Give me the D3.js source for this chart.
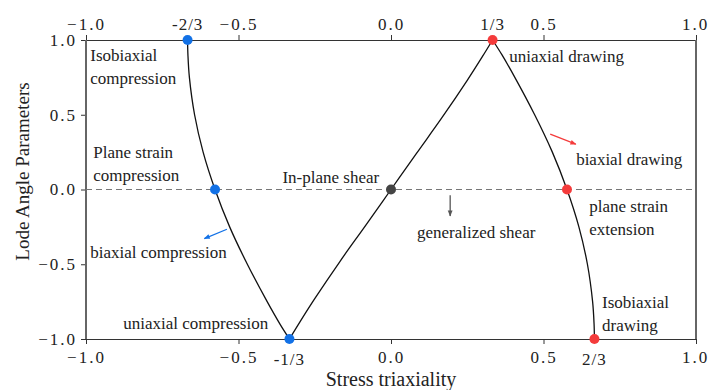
<!DOCTYPE html>
<html>
<head>
<meta charset="utf-8">
<script src="https://cdn.jsdelivr.net/npm/d3@7"></script>
<style>
  body { margin: 0; background: #fff; }
  svg text { font-family: "Liberation Serif", "DejaVu Serif", serif; fill: #222; }
  .tick text { letter-spacing: 2px; }
</style>
</head>
<body>
<div id="chart"></div>
<script>
// stress triaxiality (eta) vs Lode angle parameter
const compEta  = [-0.667, -0.6658, -0.661, -0.644, -0.616, -0.577, -0.529, -0.471, -0.406, -0.364, -0.333];
const compLode = [1, 0.9, 0.75, 0.5, 0.25, 0, -0.25, -0.5, -0.75, -0.9, -1];
const shearEta  = [-0.333, -0.3, -0.25, -0.167, -0.083, 0, 0.083, 0.167, 0.25, 0.3, 0.333];
const shearLode = [-1, -0.89, -0.73, -0.48, -0.24, 0, 0.24, 0.48, 0.73, 0.89, 1];
const tensEta  = [0.333, 0.364, 0.406, 0.471, 0.529, 0.577, 0.616, 0.644, 0.661, 0.6658, 0.667];
const tensLode = [1, 0.9, 0.75, 0.5, 0.25, 0, -0.25, -0.5, -0.75, -0.9, -1];

// special states
const pointEta   = [-0.667, -0.577, -0.333, 0.333, 0.577, 0.667, 0];
const pointLode  = [1, 0, -1, 1, 0, -1, 0];
const pointGroup = ['comp', 'comp', 'comp', 'tens', 'tens', 'tens', 'shear'];

// tick labels
const tickVals = [-1, -0.5, 0, 0.5, 1];
const topFracVals = [-2 / 3, 1 / 3];
const topFracLabels = ['-2/3', '1/3'];
const bottomFracVals = [-1 / 3, 2 / 3];
const bottomFracLabels = ['-1/3', '2/3'];

const colors = { comp: '#1271e6', tens: '#f43b3b', shear: '#444' };

const width = 709, height = 390;
const margin = { top: 40, right: 13, bottom: 51, left: 86 };

const svg = d3.select('#chart').append('svg')
  .attr('width', width)
  .attr('height', height);

const x = d3.scaleLinear().domain([-1, 1]).range([margin.left, width - margin.right]);
const y = d3.scaleLinear().domain([-1, 1]).range([height - margin.bottom, margin.top]);

const defs = svg.append('defs');
Object.entries({ red: colors.tens, blue: colors.comp, grey: '#555' }).forEach(([k, c]) => {
  defs.append('marker')
    .attr('id', 'arrow-' + k)
    .attr('viewBox', '0 0 10 10')
    .attr('refX', 9).attr('refY', 5)
    .attr('markerWidth', 7).attr('markerHeight', 6)
    .attr('markerUnits', 'userSpaceOnUse')
    .attr('orient', 'auto')
    .append('path')
    .attr('d', 'M0,1 L10,5 L0,9 Z')
    .attr('fill', c);
});

const fmt = d => d3.format('.1f')(d).replace('-', '\u2212');

// axes
const gx = svg.append('g')
  .attr('transform', `translate(0, ${y(-1)})`)
  .call(d3.axisBottom(x).tickValues(tickVals).tickFormat(fmt).tickSize(5).tickPadding(7));
const gt = svg.append('g')
  .attr('transform', `translate(0, ${y(1)})`)
  .call(d3.axisTop(x).tickValues(tickVals).tickFormat(fmt).tickSize(5).tickPadding(5));
const gy = svg.append('g')
  .attr('transform', `translate(${x(-1)}, 0)`)
  .call(d3.axisLeft(y).tickValues(tickVals).tickFormat(fmt).tickSize(5).tickPadding(4));

[gx, gt, gy].forEach(g => {
  g.selectAll('.tick text').attr('font-size', 17).attr('fill', '#222')
    .attr('font-family', '"Liberation Serif", serif');
  g.selectAll('.tick line').attr('stroke', '#333');
  g.select('.domain').attr('stroke', '#333');
});
gy.select('.domain').remove();
// keep the right-most labels inside the picture
[gx, gt].forEach(g => {
  g.selectAll('.tick text').filter(d => d === 1).attr('dx', -1);
});

// side spines (thicker grey)
svg.append('line')
  .attr('x1', x(-1)).attr('x2', x(-1)).attr('y1', y(1)).attr('y2', y(-1))
  .attr('stroke', '#666').attr('stroke-width', 2);
svg.append('line')
  .attr('x1', x(1)).attr('x2', x(1)).attr('y1', y(1)).attr('y2', y(-1))
  .attr('stroke', '#666').attr('stroke-width', 2);

// fraction labels
svg.selectAll('.topfrac')
  .data(topFracVals)
  .enter().append('text')
  .attr('x', d => x(d)).attr('y', y(1) - 10)
  .attr('text-anchor', 'middle').attr('font-size', 17).attr('letter-spacing', 1)
  .text((d, i) => topFracLabels[i]);
svg.selectAll('.botfrac')
  .data(bottomFracVals)
  .enter().append('text')
  .attr('x', d => x(d)).attr('y', y(-1) + 26)
  .attr('text-anchor', 'middle').attr('font-size', 17).attr('letter-spacing', 1)
  .text((d, i) => bottomFracLabels[i]);

// axis titles
svg.append('text')
  .attr('x', x(0)).attr('y', 386)
  .attr('text-anchor', 'middle').attr('font-size', 20)
  .text('Stress triaxiality');
svg.append('text')
  .attr('transform', `translate(29, ${y(0) - 18}) rotate(-90)`)
  .attr('text-anchor', 'middle').attr('font-size', 19)
  .text('Lode Angle Parameters');

// zero line
svg.append('line')
  .attr('x1', x(-1)).attr('x2', x(1)).attr('y1', y(0)).attr('y2', y(0))
  .attr('stroke', '#777').attr('stroke-width', 1.2).attr('stroke-dasharray', '6,4');

// curves
const line = d3.line()
  .x(d => x(d[0]))
  .y(d => y(d[1]))
  .curve(d3.curveCatmullRom.alpha(0.5));

[[compEta, compLode], [shearEta, shearLode], [tensEta, tensLode]].forEach(([es, ls]) => {
  svg.append('path')
    .datum(d3.zip(es, ls))
    .attr('fill', 'none')
    .attr('stroke', '#111')
    .attr('stroke-width', 1.3)
    .attr('d', line);
});

// arrows
const arrows = [
  { from: [0.522, 0.37], to: [0.606, 0.303], c: 'red' },
  { from: [-0.538, -0.266], to: [-0.612, -0.328], c: 'blue' },
  { from: [0.194, -0.038], to: [0.194, -0.177], c: 'grey' }
];
const arrowColor = { red: colors.tens, blue: colors.comp, grey: '#555' };
svg.selectAll('.arrow')
  .data(arrows)
  .enter().append('line')
  .attr('x1', d => x(d.from[0])).attr('y1', d => y(d.from[1]))
  .attr('x2', d => x(d.to[0])).attr('y2', d => y(d.to[1]))
  .attr('stroke', d => arrowColor[d.c])
  .attr('stroke-width', 1.3)
  .attr('marker-end', d => `url(#arrow-${d.c})`);

// points
svg.selectAll('.state')
  .data(pointEta)
  .enter().append('circle')
  .attr('cx', d => x(d))
  .attr('cy', (d, i) => y(pointLode[i]))
  .attr('r', 5)
  .attr('fill', (d, i) => colors[pointGroup[i]]);

// annotations (anchor in data units)
const notes = [
  { lines: ['Isobiaxial', 'compression'], at: [-0.986, 0.857] },
  { lines: ['uniaxial drawing'], at: [0.388, 0.851] },
  { lines: ['Plane strain', 'compression'], at: [-0.976, 0.209] },
  { lines: ['In-plane shear'], at: [-0.356, 0.042] },
  { lines: ['biaxial drawing'], at: [0.607, 0.163] },
  { lines: ['plane strain', 'extension'], at: [0.650, -0.15] },
  { lines: ['generalized shear'], at: [0.085, -0.326] },
  { lines: ['biaxial compression'], at: [-0.986, -0.461] },
  { lines: ['uniaxial compression'], at: [-0.878, -0.934] },
  { lines: ['Isobiaxial', 'drawing'], at: [0.692, -0.792] }
];
const noteText = svg.selectAll('.note')
  .data(notes)
  .enter().append('text')
  .attr('font-size', 17)
  .attr('x', d => x(d.at[0]))
  .attr('y', d => y(d.at[1]));
noteText.selectAll('tspan')
  .data(d => d.lines.map(l => ({ l, x: x(d.at[0]) })))
  .enter().append('tspan')
  .attr('x', d => d.x)
  .attr('dy', (d, i) => i === 0 ? 0 : 23)
  .text(d => d.l);
</script>
</body>
</html>
